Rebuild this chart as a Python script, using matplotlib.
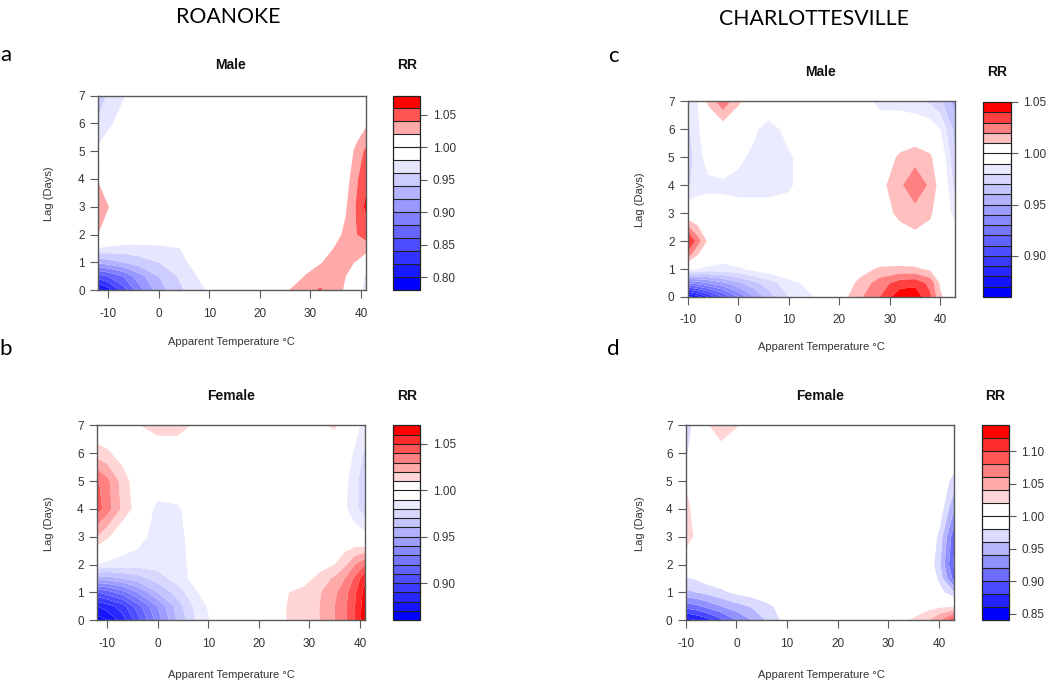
import numpy as np
import matplotlib
matplotlib.use("Agg")
import matplotlib.pyplot as plt
from matplotlib.colors import ListedColormap, BoundaryNorm

plt.rcParams['font.family'] = ['Liberation Sans', 'DejaVu Sans']
plt.rcParams['axes.unicode_minus'] = False

# ---------------- data (relative risk) ----------------
lag_days = [0, 0.5, 1, 1.5, 2, 3, 4, 5, 6, 7]
temp_roanoke = [-12, -10, -7, -4, 0, 4, 8, 12, 20, 26, 29, 32, 35, 37, 39, 41]
temp_charlottesville = [-10, -8, -6, -3, 0, 3, 6, 10, 15, 20, 24, 28, 32, 35, 38, 40, 43]

rr_roanoke_male = [
    [0.79, 0.81, 0.85, 0.89, 0.93, 0.955, 0.975, 0.99, 1.00, 1.021, 1.033, 1.043, 1.025, 1.018, 1.00, 0.97],
    [0.85, 0.86, 0.88, 0.91, 0.94, 0.962, 0.982, 0.995, 1.00, 1.01, 1.021, 1.03, 1.028, 1.02, 1.01, 0.975],
    [0.925, 0.93, 0.94, 0.95, 0.96, 0.972, 0.99, 1.00, 1.00, 1.00, 1.012, 1.019, 1.028, 1.025, 1.019, 1.00],
    [0.978, 0.975, 0.972, 0.972, 0.974, 0.979, 1.00, 1.00, 1.00, 1.00, 1.00, 1.01, 1.022, 1.03, 1.035, 1.03],
    [1.02, 1.01, 1.00, 1.00, 1.00, 1.00, 1.00, 1.00, 1.00, 1.00, 1.00, 1.00, 1.015, 1.024, 1.039, 1.048],
    [1.03, 1.021, 1.00, 1.00, 1.00, 1.00, 1.00, 1.00, 1.00, 1.00, 1.00, 1.00, 1.01, 1.018, 1.041, 1.065],
    [1.019, 1.005, 1.00, 1.00, 1.00, 1.00, 1.00, 1.00, 1.00, 1.00, 1.00, 1.00, 1.00, 1.01, 1.036, 1.055],
    [0.985, 0.995, 1.00, 1.00, 1.00, 1.00, 1.00, 1.00, 1.00, 1.00, 1.00, 1.00, 1.00, 1.005, 1.025, 1.045],
    [0.962, 0.975, 0.99, 1.00, 1.00, 1.00, 1.00, 1.00, 1.00, 1.00, 1.00, 1.00, 1.00, 1.00, 1.005, 1.016],
    [0.952, 0.962, 0.978, 0.99, 1.00, 1.00, 1.00, 1.00, 1.00, 1.00, 1.00, 1.00, 1.00, 1.00, 1.00, 1.00],
]

rr_roanoke_female = [
    [0.865, 0.87, 0.885, 0.905, 0.935, 0.962, 0.983, 0.995, 1.00, 1.011, 1.016, 1.02, 1.03, 1.038, 1.05, 1.067],
    [0.88, 0.885, 0.895, 0.915, 0.94, 0.965, 0.985, 0.997, 1.00, 1.011, 1.016, 1.02, 1.03, 1.038, 1.05, 1.066],
    [0.91, 0.915, 0.925, 0.94, 0.96, 0.975, 0.99, 1.00, 1.00, 1.01, 1.014, 1.019, 1.028, 1.036, 1.048, 1.064],
    [0.955, 0.955, 0.96, 0.965, 0.975, 0.985, 0.995, 1.00, 1.00, 1.00, 1.005, 1.014, 1.022, 1.03, 1.042, 1.058],
    [0.99, 0.987, 0.985, 0.984, 0.984, 0.986, 0.995, 1.00, 1.00, 1.00, 1.00, 1.005, 1.01, 1.018, 1.03, 1.04],
    [1.02, 1.012, 1.00, 0.995, 0.985, 0.985, 1.00, 1.00, 1.00, 1.00, 1.00, 1.00, 1.00, 1.00, 0.998, 0.993],
    [1.045, 1.035, 1.018, 1.005, 0.986, 0.988, 1.00, 1.00, 1.00, 1.00, 1.00, 1.00, 1.00, 0.992, 0.982, 0.976],
    [1.042, 1.033, 1.016, 1.003, 1.00, 1.00, 1.00, 1.00, 1.00, 1.00, 1.00, 1.00, 1.00, 0.993, 0.983, 0.974],
    [1.015, 1.012, 1.005, 1.00, 1.00, 1.00, 1.00, 1.00, 1.00, 1.00, 1.00, 1.00, 1.00, 0.998, 0.988, 0.978],
    [1.00, 1.00, 1.00, 1.009, 1.016, 1.016, 1.006, 1.00, 1.00, 1.00, 1.00, 1.008, 1.012, 1.00, 0.995, 0.985],
]

rr_charlottesville_male = [
    [0.865, 0.875, 0.89, 0.91, 0.93, 0.948, 0.965, 0.98, 0.99, 1.004, 1.018, 1.03, 1.047, 1.047, 1.032, 1.012, 1.00],
    [0.93, 0.935, 0.94, 0.948, 0.958, 0.967, 0.975, 0.986, 0.995, 1.00, 1.013, 1.025, 1.035, 1.037, 1.027, 1.008, 1.00],
    [0.995, 0.99, 0.987, 0.987, 0.988, 0.993, 0.997, 1.00, 1.00, 1.00, 1.005, 1.012, 1.013, 1.012, 1.008, 1.00, 1.00],
    [1.025, 1.01, 1.00, 0.995, 1.00, 1.00, 1.00, 1.00, 1.00, 1.00, 1.00, 1.00, 1.00, 1.00, 1.00, 1.00, 1.00],
    [1.045, 1.025, 1.008, 1.00, 1.00, 1.00, 1.00, 1.00, 1.00, 1.00, 1.00, 1.00, 1.003, 1.006, 1.003, 1.00, 1.00],
    [1.00, 0.998, 0.997, 0.996, 0.995, 0.995, 0.995, 0.996, 1.00, 1.00, 1.00, 1.004, 1.013, 1.016, 1.012, 1.002, 0.985],
    [0.978, 0.985, 0.987, 0.987, 0.986, 0.986, 0.986, 0.988, 1.00, 1.00, 1.00, 1.006, 1.018, 1.028, 1.018, 1.005, 0.975],
    [0.975, 0.985, 0.995, 1.00, 0.993, 0.987, 0.986, 0.988, 1.00, 1.00, 1.00, 1.002, 1.012, 1.016, 1.012, 1.00, 0.97],
    [0.978, 0.988, 1.00, 1.003, 1.00, 0.993, 0.984, 0.995, 1.00, 1.00, 1.00, 1.00, 1.00, 1.00, 0.997, 0.99, 0.965],
    [0.982, 0.99, 1.012, 1.028, 1.012, 1.003, 1.003, 1.00, 1.00, 1.00, 1.00, 0.985, 0.985, 0.982, 0.978, 0.972, 0.955],
]

rr_charlottesville_female = [
    [0.85, 0.86, 0.87, 0.895, 0.92, 0.94, 0.962, 0.99, 1.00, 1.00, 1.00, 1.00, 1.01, 1.024, 1.04, 1.06, 1.10],
    [0.91, 0.915, 0.925, 0.94, 0.952, 0.962, 0.975, 0.99, 1.00, 1.00, 1.00, 1.00, 1.00, 1.005, 1.012, 1.015, 1.018],
    [0.955, 0.96, 0.965, 0.975, 0.985, 0.99, 0.995, 1.00, 1.00, 1.00, 1.00, 1.00, 1.00, 1.00, 1.00, 0.99, 0.96],
    [0.978, 0.982, 0.99, 0.995, 1.00, 1.00, 1.00, 1.00, 1.00, 1.00, 1.00, 1.00, 1.00, 1.00, 1.00, 0.975, 0.91],
    [1.00, 1.00, 1.00, 1.00, 1.00, 1.00, 1.00, 1.00, 1.00, 1.00, 1.00, 1.00, 1.00, 1.00, 0.995, 0.965, 0.895],
    [1.035, 1.015, 1.00, 1.00, 1.00, 1.00, 1.00, 1.00, 1.00, 1.00, 1.00, 1.00, 1.00, 1.00, 0.997, 0.975, 0.905],
    [1.03, 1.008, 1.00, 1.00, 1.00, 1.00, 1.00, 1.00, 1.00, 1.00, 1.00, 1.00, 1.00, 1.00, 1.00, 0.995, 0.94],
    [1.018, 1.00, 1.00, 1.00, 1.00, 1.00, 1.00, 1.00, 1.00, 1.00, 1.00, 1.00, 1.00, 1.00, 1.00, 1.00, 0.97],
    [0.975, 1.00, 1.00, 1.005, 1.00, 1.00, 1.00, 1.00, 1.00, 1.00, 1.00, 1.00, 1.00, 1.00, 1.00, 1.00, 1.00],
    [0.96, 0.995, 1.015, 1.04, 1.022, 1.005, 1.00, 1.00, 1.00, 1.00, 1.00, 1.00, 1.00, 1.00, 1.00, 1.00, 1.00],
]

# colour key ranges (min, max, step) and labelled ticks
key_roanoke_male = (0.78, 1.08, 0.02)
key_roanoke_female = (0.86, 1.07, 0.01)
key_charlottesville_male = (0.86, 1.05, 0.01)
key_charlottesville_female = (0.84, 1.14, 0.02)
ticks_roanoke_male = [0.80, 0.85, 0.90, 0.95, 1.00, 1.05]
ticks_roanoke_female = [0.90, 0.95, 1.00, 1.05]
ticks_charlottesville_male = [0.90, 0.95, 1.00, 1.05]
ticks_charlottesville_female = [0.85, 0.90, 0.95, 1.00, 1.05, 1.10]

x_ticks = [-10, 0, 10, 20, 30, 40]
y_ticks = [0, 1, 2, 3, 4, 5, 6, 7]

# ---------------- figure ----------------
W, H = 1050, 683
fig = plt.figure(figsize=(W / 100, H / 100), dpi=100)


def rect(x0, y0, x1, y1):
    return [x0 / W, 1 - y1 / H, (x1 - x0) / W, (y1 - y0) / H]


def ftext(x, y, s, **kw):
    fig.text(x / W, 1 - y / H, s, ha='center', va='center', **kw)


def r_palette(levels):
    n_lo = int(np.sum(levels < 1 - 1e-9))
    n_hi = int(np.sum(levels > 1 + 1e-9))
    lo = [(t, t, 1.0) for t in np.linspace(0, 1, n_lo)]
    hi = [(1.0, 1 - t, 1 - t) for t in np.linspace(0, 1, n_hi)]
    return lo + hi


AX_COL = '#5a5a5a'
TXT_COL = '#333333'

panels = [
    dict(rr=rr_roanoke_male, temp=temp_roanoke, key=key_roanoke_male, ticks=ticks_roanoke_male,
         xlim=(-12, 41), ax=(98, 95.5, 366, 290.3), cb=(393.3, 95.5, 420.3, 290.3),
         title='Male', tpos=(231, 65), rrpos=(407, 65), lagpos=(49, 194), xlpos=(231, 342)),
    dict(rr=rr_roanoke_female, temp=temp_roanoke, key=key_roanoke_female, ticks=ticks_roanoke_female,
         xlim=(-12, 41), ax=(97, 425.4, 365, 620.2), cb=(393.3, 425.4, 420.3, 620.2),
         title='Female', tpos=(231, 396), rrpos=(407, 396), lagpos=(49, 524), xlpos=(231, 675)),
    dict(rr=rr_charlottesville_male, temp=temp_charlottesville, key=key_charlottesville_male,
         ticks=ticks_charlottesville_male,
         xlim=(-10, 43), ax=(687.7, 101.3, 955.5, 297), cb=(983.1, 102, 1010.5, 297),
         title='Male', tpos=(821, 72), rrpos=(997, 72), lagpos=(640, 200), xlpos=(821, 347)),
    dict(rr=rr_charlottesville_female, temp=temp_charlottesville, key=key_charlottesville_female,
         ticks=ticks_charlottesville_female,
         xlim=(-10, 43), ax=(685.7, 425.4, 954.4, 620.2), cb=(981.5, 425.4, 1008.8, 620.2),
         title='Female', tpos=(820, 396), rrpos=(995, 396), lagpos=(640, 524), xlpos=(821, 675)),
]

for p in panels:
    lo, hi, st = p['key']
    levels = np.round(np.arange(lo, hi + st / 2, st), 4)
    colors = r_palette(levels)
    cmap = ListedColormap(colors)
    norm = BoundaryNorm(levels, cmap.N)

    ax = fig.add_axes(rect(*p['ax']))
    Z = np.array(p['rr'])
    cs = ax.contourf(p['temp'], lag_days, Z, levels=levels, cmap=cmap, norm=norm, antialiased=True)
    ax.set_xlim(*p['xlim'])
    ax.set_ylim(0, 7)
    ax.set_xticks(x_ticks)
    ax.set_yticks(y_ticks)
    for s in ax.spines.values():
        s.set_color(AX_COL)
        s.set_linewidth(1.0)
    ax.tick_params(axis='both', direction='out', length=5.5, width=0.8, color=AX_COL,
                   labelsize=8.5, labelcolor=TXT_COL)
    ax.tick_params(axis='x', pad=7)
    ax.tick_params(axis='y', pad=4)

    cax = fig.add_axes(rect(*p['cb']))
    cb = fig.colorbar(cs, cax=cax, drawedges=True)
    cb.dividers.set_color('#222222')
    cb.dividers.set_linewidth(0.8)
    cb.outline.set_edgecolor('#222222')
    cb.outline.set_linewidth(0.9)
    cb.set_ticks(p['ticks'])
    cb.set_ticklabels(['%.2f' % t for t in p['ticks']])
    cax.tick_params(direction='out', length=5, width=0.8, color=AX_COL, labelsize=8.5,
                    labelcolor=TXT_COL, pad=4)
    cax.minorticks_off()

    ftext(*p['tpos'], p['title'], fontsize=10, fontweight='bold', color='#111111')
    ftext(*p['rrpos'], 'RR', fontsize=10, fontweight='bold', color='#111111')
    ftext(*p['lagpos'], 'Lag (Days)', fontsize=8, rotation=90, color=TXT_COL)
    ftext(*p['xlpos'], 'Apparent Temperature \u00b0C', fontsize=8, color=TXT_COL)

HEAD = ['Lato', 'Open Sans', 'DejaVu Sans']
ftext(228, 17, 'ROANOKE', fontsize=15.3, family=HEAD, color='black')
ftext(813.6, 19, 'CHARLOTTESVILLE', fontsize=15.3, family=HEAD, color='black')
ftext(6, 55, 'a', fontsize=16, family=HEAD, color='black')
ftext(613.5, 56, 'c', fontsize=16, family=HEAD, color='black')
ftext(6, 349, 'b', fontsize=16, family=HEAD, color='black')
ftext(613.5, 349, 'd', fontsize=16, family=HEAD, color='black')

fig.savefig('out.png', dpi=100)
